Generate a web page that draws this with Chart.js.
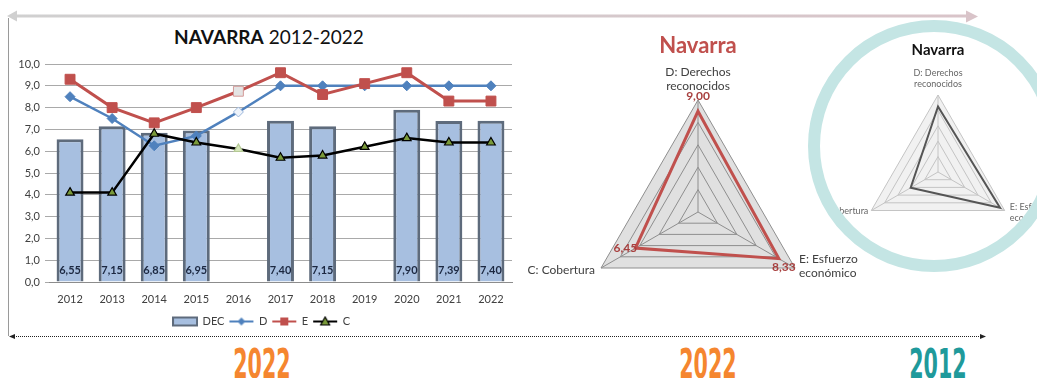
<!DOCTYPE html>
<html lang="es">
<head>
<meta charset="utf-8">
<title>Navarra 2012-2022</title>
<script src="https://cdn.jsdelivr.net/npm/chart.js@4.4.1/dist/chart.umd.min.js"></script>
<style>
  html, body { margin: 0; padding: 0; background: #fff; }
  body { width: 1037px; height: 378px; position: relative; overflow: hidden; font-family: Lato, "Noto Sans", sans-serif; }
  .abs { position: absolute; }
  #mainTitle { left: 14px; top: 25px; width: 510px; text-align: center; font-size: 19px; line-height: 24px; color: #111; }
  #mainBox { left: 10px; top: 20px; }
  #radarBox { left: 518px; top: 20px; }
  #ring { left: 808px; top: 20px; width: 228px; height: 228px; border: 12px solid #c4e5e4; border-radius: 50%; overflow: hidden; background: #fff; }
  #ring canvas { position: absolute; left: -1px; top: -1px; }
  .year { top: 342px; width: 120px; text-align: center; font-family: "DejaVu Sans Condensed", "DejaVu Sans", sans-serif; font-weight: bold; font-size: 41px; line-height: 44px; transform: scaleX(0.56); }
  #deco { position: absolute; left: 0; top: 0; pointer-events: none; }
</style>
</head>
<body>

<div class="abs" id="mainTitle"><b>NAVARRA</b> 2012-2022</div>
<div class="abs" id="mainBox"><canvas id="evolucion" width="510" height="317"></canvas></div>
<div class="abs" id="radarBox"><canvas id="radar2022" width="352" height="310"></canvas></div>
<div class="abs" id="ring"><canvas id="radar2012" width="230" height="230"></canvas></div>

<div class="abs year" style="left:202px; color:#f5862f;">2022</div>
<div class="abs year" style="left:648px; color:#f5862f;">2022</div>
<div class="abs year" style="left:878px; color:#1f9a9b;">2012</div>

<svg id="deco" width="1037" height="378">
  <defs>
    <linearGradient id="topArrow" gradientUnits="userSpaceOnUse" x1="10" y1="16" x2="978" y2="16">
      <stop offset="0" stop-color="#d0d0d0"/>
      <stop offset="1" stop-color="#d9c4c9"/>
    </linearGradient>
  </defs>
  <line x1="16" y1="16" x2="968" y2="16" stroke="url(#topArrow)" stroke-width="3"/>
  <polygon points="7,16 17,10.5 17,21.5" fill="#d0d0d0"/>
  <polygon points="978,16.5 966,10.5 966,22.5" fill="#d9c4c9"/>
  <line x1="8.5" y1="18" x2="8.5" y2="336" stroke="#9a9a9a" stroke-width="1"/>
  <line x1="14" y1="336.5" x2="981" y2="336.5" stroke="#222" stroke-width="1" stroke-dasharray="1 1"/>
  <polygon points="9,336.5 15,334 15,339" fill="#222"/>
  <polygon points="986,336.5 980,334 980,339" fill="#222"/>
</svg>

<script>
// ---- datos ----
const years = ['2012', '2013', '2014', '2015', '2016', '2017', '2018', '2019', '2020', '2021', '2022'];
const seriesNames = ['DEC', 'D', 'E', 'C'];
const decValues = [6.55, 7.15, 6.85, 6.95, null, 7.40, 7.15, null, 7.90, 7.39, 7.40];
const dValues = [8.5, 7.5, 6.25, 6.7, 7.8, 9.0, 9.0, 9.0, 9.0, 9.0, 9.0];
const eValues = [9.3, 8.0, 7.3, 8.0, 8.75, 9.6, 8.6, 9.1, 9.6, 8.3, 8.3];
const cValues = [4.1, 4.1, 6.8, 6.4, 6.1, 5.7, 5.8, 6.2, 6.6, 6.4, 6.4];

const radarAxes = [['D: Derechos', 'reconocidos'], ['E: Esfuerzo', 'económico'], ['C: Cobertura']];
const radar2022 = [9.00, 8.33, 6.45];
const radar2012 = [8.5, 9.3, 4.1];

Chart.defaults.font.family = 'Lato, "Noto Sans", sans-serif';
Chart.defaults.animation = false;

const comma = (v, d) => v.toFixed(d).replace('.', ',');

// 2016 era un valor estimado: marcador mas claro
const pick = (normal, faded) => years.map(y => (y === '2016' ? faded : normal));

// ---- simbolos de la leyenda (linea + marcador) ----
function swatch(kind) {
  const c = document.createElement('canvas');
  c.width = 26; c.height = 12;
  const g = c.getContext('2d');
  if (kind === 'bar') {
    g.fillStyle = '#a7bfe0'; g.fillRect(1, 2, 24, 8);
    g.strokeStyle = '#5e6b7c'; g.lineWidth = 2; g.strokeRect(1, 2, 24, 8);
    return c;
  }
  const col = { D: '#4f81bd', E: '#c0504d', C: '#000' }[kind];
  g.strokeStyle = col; g.lineWidth = 2;
  g.beginPath(); g.moveTo(1, 6); g.lineTo(25, 6); g.stroke();
  g.beginPath();
  if (kind === 'D') { g.moveTo(13, 2); g.lineTo(17, 6); g.lineTo(13, 10); g.lineTo(9, 6); g.fillStyle = col; }
  if (kind === 'E') { g.rect(9, 2, 8, 8); g.fillStyle = col; }
  if (kind === 'C') { g.moveTo(13, 1.5); g.lineTo(17.5, 9.5); g.lineTo(8.5, 9.5); g.fillStyle = '#7a9a3a'; }
  g.closePath(); g.fill();
  if (kind === 'C') { g.lineWidth = 1.2; g.stroke(); }
  return c;
}
const legendSymbols = [swatch('bar'), swatch('D'), swatch('E'), swatch('C')];

// etiquetas de valor dentro de las barras
const barValueLabels = {
  id: 'barValueLabels',
  afterDatasetsDraw(chart) {
    const ctx = chart.ctx;
    const y0 = chart.scales.y.getPixelForValue(0);
    ctx.save();
    ctx.font = 'bold 11px Lato, sans-serif';
    ctx.fillStyle = '#1c2841';
    ctx.textAlign = 'center';
    ctx.textBaseline = 'middle';
    chart.getDatasetMeta(0).data.forEach((bar, i) => {
      if (decValues[i] == null) return;
      ctx.fillText(comma(decValues[i], 2), bar.x, y0 - 12);
    });
    ctx.restore();
  }
};

new Chart(document.getElementById('evolucion'), {
  type: 'bar',
  data: {
    labels: years,
    datasets: [
      {
        label: seriesNames[0], data: decValues, order: 4,
        backgroundColor: '#a7bfe0', borderColor: '#5e6b7c', borderWidth: 3,
        categoryPercentage: 1, barPercentage: 0.64
      },
      {
        type: 'line', label: seriesNames[1], data: dValues, order: 3,
        borderColor: '#4f81bd', borderWidth: 2.5, tension: 0,
        pointStyle: 'rectRot', pointRadius: 5,
        pointBackgroundColor: pick('#4f81bd', '#eef3fa'), pointBorderColor: pick('#4f81bd', '#9ab5da'), pointBorderWidth: 1
      },
      {
        type: 'line', label: seriesNames[2], data: eValues, order: 2,
        borderColor: '#c0504d', borderWidth: 3, tension: 0,
        pointStyle: 'rect', pointRadius: 7,
        pointBackgroundColor: pick('#c0504d', '#e4e4e4'), pointBorderColor: pick('#c0504d', '#d49a99'), pointBorderWidth: 1
      },
      {
        type: 'line', label: seriesNames[3], data: cValues, order: 1,
        borderColor: '#000', borderWidth: 2.5, tension: 0,
        pointStyle: 'triangle', pointRadius: 5,
        pointBackgroundColor: pick('#7a9a3a', '#d6e6bb'), pointBorderColor: pick('#000', '#b4c994'), pointBorderWidth: 1.2
      }
    ]
  },
  options: {
    responsive: false,
    layout: { padding: { top: 44, right: 7, left: 0, bottom: 0 } },
    scales: {
      x: {
        offset: true,
        grid: { display: false, drawTicks: false },
        border: { display: true, color: '#8c8c8c' },
        ticks: { color: '#404040', font: { size: 11 }, padding: 11 },
        afterFit: s => { s.height = 29; }
      },
      y: {
        min: 0, max: 10,
        grid: { color: '#a9a9a9', tickLength: 4 },
        border: { display: false },
        ticks: { stepSize: 1, color: '#404040', font: { size: 11 }, padding: 5, callback: v => comma(v, 1) },
        afterFit: s => { s.width = 39; }
      }
    },
    plugins: {
      legend: {
        position: 'bottom',
        labels: {
          usePointStyle: true, pointStyleWidth: 24, boxHeight: 11, padding: 5,
          color: '#404040', font: { size: 11 },
          sort: (a, b) => a.datasetIndex - b.datasetIndex,
          generateLabels(chart) {
            const items = Chart.defaults.plugins.legend.labels.generateLabels(chart);
            items.forEach(it => { it.pointStyle = legendSymbols[it.datasetIndex]; });
            return items;
          }
        }
      },
      tooltip: { enabled: false }
    }
  },
  plugins: [barValueLabels]
});

// ---- radar: fondo, rotulos de ejes y valores ----
const radarBackdrop = {
  id: 'radarBackdrop',
  beforeDraw(chart, args, opts) {
    const r = chart.scales.r, ctx = chart.ctx;
    ctx.save();
    ctx.beginPath();
    chart.data.labels.forEach((l, i) => {
      const p = r.getPointPosition(i, r.drawingArea);
      i ? ctx.lineTo(p.x, p.y) : ctx.moveTo(p.x, p.y);
    });
    ctx.closePath();
    ctx.fillStyle = opts.color;
    ctx.fill();
    ctx.restore();
  }
};

const axisText = {
  id: 'axisText',
  afterDraw(chart, args, opts) {
    const r = chart.scales.r, ctx = chart.ctx;
    ctx.save();
    ctx.font = opts.size + 'px Lato, sans-serif';
    ctx.fillStyle = opts.color;
    ctx.textBaseline = 'middle';
    chart.data.labels.forEach((lab, i) => {
      const p = r.getPointPosition(i, r.drawingArea);
      const s = opts.spots[i];
      ctx.textAlign = s.align;
      [].concat(lab).forEach((t, k) => ctx.fillText(t, p.x + s.dx, p.y + s.dy + k * opts.lineHeight));
    });
    ctx.restore();
  }
};

const pointValues = {
  id: 'pointValues',
  afterDraw(chart, args, opts) {
    const ctx = chart.ctx;
    ctx.save();
    ctx.font = 'bold 12px Lato, sans-serif';
    ctx.fillStyle = opts.color;
    ctx.textAlign = 'center';
    ctx.textBaseline = 'middle';
    chart.getDatasetMeta(0).data.forEach((pt, i) => {
      const o = opts.offsets[i];
      ctx.fillText(comma(chart.data.datasets[0].data[i], 2), pt.x + o[0], pt.y + o[1]);
    });
    ctx.restore();
  }
};

function radarScale(gridColor) {
  return {
    r: {
      min: 0, max: 10,
      ticks: { display: false, stepSize: 2 },
      grid: { color: gridColor, lineWidth: 1 },
      angleLines: { color: gridColor },
      pointLabels: { display: false }
    }
  };
}

new Chart(document.getElementById('radar2022'), {
  type: 'radar',
  data: {
    labels: radarAxes,
    datasets: [{ data: radar2022, borderColor: '#c0504d', borderWidth: 3, fill: false, pointRadius: 0, tension: 0 }]
  },
  options: {
    responsive: false,
    layout: { padding: { top: 13, left: 68, right: 60, bottom: 6 } },
    scales: radarScale('#8e8e8e'),
    plugins: {
      legend: { display: false },
      tooltip: { enabled: false },
      title: { display: true, text: 'Navarra', color: '#c0504d', font: { size: 22, weight: 'bold' }, padding: { top: 0, bottom: 40.6 } },
      radarBackdrop: { color: '#e0e0e0' },
      axisText: {
        size: 12, color: '#404040', lineHeight: 14.5,
        spots: [{ align: 'center', dx: 0, dy: -28 }, { align: 'left', dx: 4, dy: -9 }, { align: 'right', dx: -6, dy: 2 }]
      },
      pointValues: { color: '#a8403f', offsets: [[0, -15], [5, 8], [-10, 0]] }
    }
  },
  plugins: [radarBackdrop, axisText, pointValues]
});

new Chart(document.getElementById('radar2012'), {
  type: 'radar',
  data: {
    labels: radarAxes,
    datasets: [{ data: radar2012, borderColor: '#555', borderWidth: 2, fill: false, pointRadius: 0, tension: 0 }]
  },
  options: {
    responsive: false,
    layout: { padding: { top: 0, left: 42, right: 34, bottom: 12 } },
    scales: radarScale('#c4c4c4'),
    plugins: {
      legend: { display: false },
      tooltip: { enabled: false },
      title: { display: true, text: 'Navarra', color: '#111', font: { size: 15, weight: 'bold' }, padding: { top: 10, bottom: 36 } },
      radarBackdrop: { color: '#f1f1f1' },
      axisText: {
        size: 9, color: '#666', lineHeight: 11,
        spots: [{ align: 'center', dx: 0, dy: -22 }, { align: 'left', dx: 5, dy: -3 }, { align: 'right', dx: -3, dy: 1 }]
      }
    }
  },
  plugins: [radarBackdrop, axisText]
});
</script>
</body>
</html>
